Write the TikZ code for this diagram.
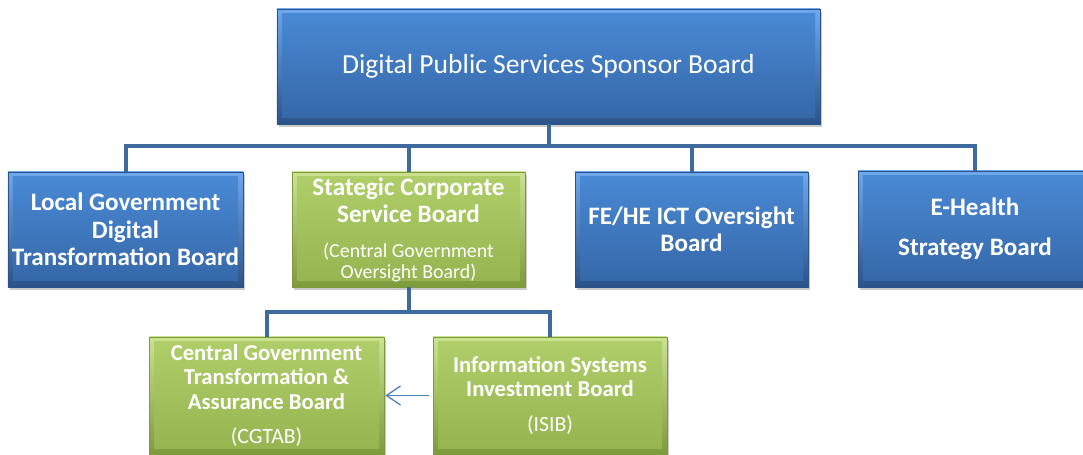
\documentclass[tikz,border=0pt]{standalone}
\usepackage{fontspec}
\setmainfont{Carlito}
\usetikzlibrary{calc,shadows,arrows.meta}
\definecolor{blueTop}{HTML}{4A8AD6}
\definecolor{blueBot}{HTML}{3566A6}
\definecolor{blueEdgeTop}{HTML}{6FA8EE}
\definecolor{blueEdgeBot}{HTML}{2B5388}
\definecolor{greenTop}{HTML}{B0CF6A}
\definecolor{greenBot}{HTML}{95B450}
\definecolor{greenEdgeTop}{HTML}{CBE391}
\definecolor{greenEdgeBot}{HTML}{7D9B3D}
\definecolor{connBlue}{HTML}{3E6A9E}
\definecolor{arrowBlue}{HTML}{4F81BD}
\tikzset{
  boxbase/.style={rectangle, inner sep=0pt, text=white, align=center,
    drop shadow={shadow xshift=2bp, shadow yshift=-3bp, opacity=0.35, fill=black!60}},
  bluebox/.style={boxbase, top color=blueEdgeTop, bottom color=blueEdgeBot,
    draw=blueEdgeBot, line width=0.6bp,
    path picture={\fill[top color=blueTop, bottom color=blueBot]
      ($(path picture bounding box.south west)+(5,-6)$) rectangle
      ($(path picture bounding box.north east)+(-5,5)$);}},
  greenbox/.style={boxbase, top color=greenEdgeTop, bottom color=greenEdgeBot,
    draw=greenEdgeBot, line width=0.6bp,
    path picture={\fill[top color=greenTop, bottom color=greenBot]
      ($(path picture bounding box.south west)+(5,-6)$) rectangle
      ($(path picture bounding box.north east)+(-5,5)$);}},
  lvltwo/.style={font=\fontsize{25.2}{27.5}\selectfont\bfseries},
  lvlthree/.style={font=\fontsize{22.8}{24.5}\selectfont\bfseries},
  conn/.style={draw=connBlue, line width=4bp},
  thinarrow/.style={draw=arrowBlue, line width=1.3bp, -{Straight Barb[length=14bp,width=19bp]}}
}
\begin{document}
\begin{tikzpicture}[x=1bp,y=-1bp]
\useasboundingbox (0,0) rectangle (1083,455);
% boxes
\node[bluebox, minimum width=543bp, minimum height=115bp,
  font=\fontsize{27.7}{32}\selectfont] (top) at (548.5,66.5) {Digital Public Services Sponsor Board};
\node[bluebox, lvltwo, minimum width=235bp, minimum height=115bp] (local) at (125.5,229.5)
  {Local Government\\Digital\\Transformation Board};
\node[greenbox, lvltwo, minimum width=233bp, minimum height=115bp] (strat) at (408.5,229.5)
  {Stategic Corporate\\Service Board\\[7.3bp]{\fontsize{20}{21}\mdseries\selectfont (Central Government}\\[-6.5bp]{\fontsize{20}{21}\mdseries\selectfont Oversight Board)}};
\node[bluebox, lvltwo, minimum width=233bp, minimum height=115bp] (fehe) at (691.5,229.5)
  {FE/HE ICT Oversight\\Board};
\node[bluebox, lvltwo, minimum width=234bp, minimum height=116bp] (ehealth) at (975,229)
  {E-Health\\[12.5bp]Strategy Board};
\node[greenbox, lvlthree, minimum width=235bp, minimum height=117bp] (cgtab) at (266.5,395.5)
  {Central Government\\Transformation \&\\Assurance Board\\[10.2bp]{\fontsize{21.8}{21}\mdseries\selectfont (CGTAB)}};
\node[greenbox, lvlthree, minimum width=234bp, minimum height=117bp] (isib) at (550,395.5)
  {Information Systems\\Investment Board\\[10.2bp]{\fontsize{21.8}{21}\mdseries\selectfont (ISIB)}};
% connectors
\coordinate (busTop) at (548.5,146);
\coordinate (busLow) at (408.5,312);
\draw[conn] (top.south) -- (busTop);
\draw[conn] (busTop) -| (local.north);
\draw[conn] (busTop) -| (strat.north);
\draw[conn] (busTop) -| (fehe.north);
\draw[conn] (busTop) -| (ehealth.north);
\draw[conn] (strat.south) -- (busLow);
\draw[conn] (busLow) -| (cgtab.north);
\draw[conn] (busLow) -| (isib.north);
\draw[thinarrow] ([xshift=-4bp]isib.west) -- ([xshift=1bp]cgtab.east);
\end{tikzpicture}
\end{document}
